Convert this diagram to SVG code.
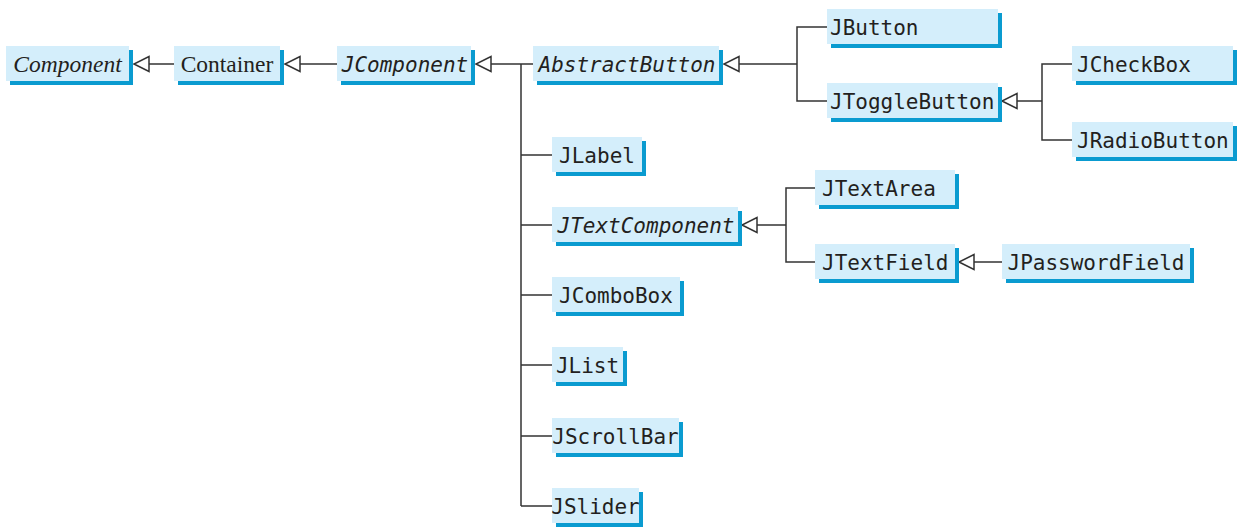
<svg xmlns="http://www.w3.org/2000/svg" width="1239" height="527" viewBox="0 0 1239 527">
<style>
.sh{fill:#0a9bd0}
.bx{fill:#d4eefb}
.m{font-family:"DejaVu Sans Mono","Liberation Mono",monospace;font-size:21px;fill:#231f20}
.mi{font-style:italic}
.s{font-family:"Liberation Serif","Times New Roman",serif;font-size:23.5px;fill:#231f20}
.c{text-anchor:middle}
.ln{fill:none;stroke:#333;stroke-width:1.5}
</style>
<defs>
<marker id="tri" markerUnits="userSpaceOnUse" markerWidth="20" markerHeight="20" viewBox="0 0 20 20" refX="17" refY="10" orient="auto">
<path d="M17,10 L2,2.5 L2,17.5 Z" fill="#fff" stroke="#333" stroke-width="1.5"/>
</marker>
</defs>
<rect width="1239" height="527" fill="#fff"/>
<g id="connectors" class="ln">
<path d="M174,64 H134" marker-end="url(#tri)"/>
<path d="M337,64 H285" marker-end="url(#tri)"/>
<path d="M533,64 H476" marker-end="url(#tri)"/>
<path d="M521,64 V506 M521,155 H552 M521,225 H552 M521,295 H552 M521,365 H552 M521,436 H552 M521,506 H552"/>
<path d="M797,64 H724" marker-end="url(#tri)"/>
<path d="M827,27 H797 V101 H827"/>
<path d="M1042,101 H1002" marker-end="url(#tri)"/>
<path d="M1072,64 H1042 V140 H1072"/>
<path d="M786,225 H742" marker-end="url(#tri)"/>
<path d="M815,188 H786 V262 H815"/>
<path d="M1002,262 H959" marker-end="url(#tri)"/>
</g>
<g id="Component"><rect class="sh" x="10" y="50" width="123" height="35"/><rect class="bx" x="6" y="46" width="123" height="35"/><text class="s c" x="67.5" y="72" font-style="italic">Component</text></g>
<g id="Container"><rect class="sh" x="178" y="50" width="106" height="35"/><rect class="bx" x="174" y="46" width="106" height="35"/><text class="s c" x="227" y="72">Container</text></g>
<g id="JComponent"><rect class="sh" x="341" y="50" width="134" height="35"/><rect class="bx" x="337" y="46" width="134" height="35"/><text class="m mi c" x="405" y="71.5">JComponent</text></g>
<g id="AbstractButton"><rect class="sh" x="537" y="50" width="186" height="35"/><rect class="bx" x="533" y="46" width="186" height="35"/><text class="m mi c" x="627" y="71.5">AbstractButton</text></g>
<g id="JButton"><rect class="sh" x="831" y="13" width="171" height="35"/><rect class="bx" x="827" y="9" width="171" height="35"/><text class="m" x="830" y="34.5">JButton</text></g>
<g id="JToggleButton"><rect class="sh" x="831" y="87" width="171" height="35"/><rect class="bx" x="827" y="83" width="171" height="35"/><text class="m" x="830" y="108.5">JToggleButton</text></g>
<g id="JCheckBox"><rect class="sh" x="1076" y="50" width="161" height="35"/><rect class="bx" x="1072" y="46" width="161" height="35"/><text class="m" x="1077" y="71.5">JCheckBox</text></g>
<g id="JRadioButton"><rect class="sh" x="1076" y="126" width="161" height="35"/><rect class="bx" x="1072" y="122" width="161" height="35"/><text class="m" x="1077" y="147.5">JRadioButton</text></g>
<g id="JLabel"><rect class="sh" x="556" y="141" width="90" height="35"/><rect class="bx" x="552" y="137" width="90" height="35"/><text class="m c" x="597" y="162.5">JLabel</text></g>
<g id="JTextComponent"><rect class="sh" x="556" y="211" width="186" height="35"/><rect class="bx" x="552" y="207" width="186" height="35"/><text class="m mi c" x="646" y="232.5">JTextComponent</text></g>
<g id="JTextArea"><rect class="sh" x="819" y="174" width="140" height="35"/><rect class="bx" x="815" y="170" width="140" height="35"/><text class="m" x="822" y="195.5">JTextArea</text></g>
<g id="JTextField"><rect class="sh" x="819" y="248" width="140" height="35"/><rect class="bx" x="815" y="244" width="140" height="35"/><text class="m" x="822" y="269.5">JTextField</text></g>
<g id="JPasswordField"><rect class="sh" x="1006" y="248" width="188" height="35"/><rect class="bx" x="1002" y="244" width="188" height="35"/><text class="m c" x="1096" y="269.5">JPasswordField</text></g>
<g id="JComboBox"><rect class="sh" x="556" y="281" width="128" height="35"/><rect class="bx" x="552" y="277" width="128" height="35"/><text class="m c" x="616" y="302.5">JComboBox</text></g>
<g id="JList"><rect class="sh" x="556" y="351" width="71" height="35"/><rect class="bx" x="552" y="347" width="71" height="35"/><text class="m c" x="587.5" y="372.5">JList</text></g>
<g id="JScrollBar"><rect class="sh" x="556" y="422" width="127" height="35"/><rect class="bx" x="552" y="418" width="127" height="35"/><text class="m c" x="615.5" y="443.5">JScrollBar</text></g>
<g id="JSlider"><rect class="sh" x="556" y="492" width="87" height="35"/><rect class="bx" x="552" y="488" width="87" height="35"/><text class="m c" x="595.5" y="513.5">JSlider</text></g>
</svg>
